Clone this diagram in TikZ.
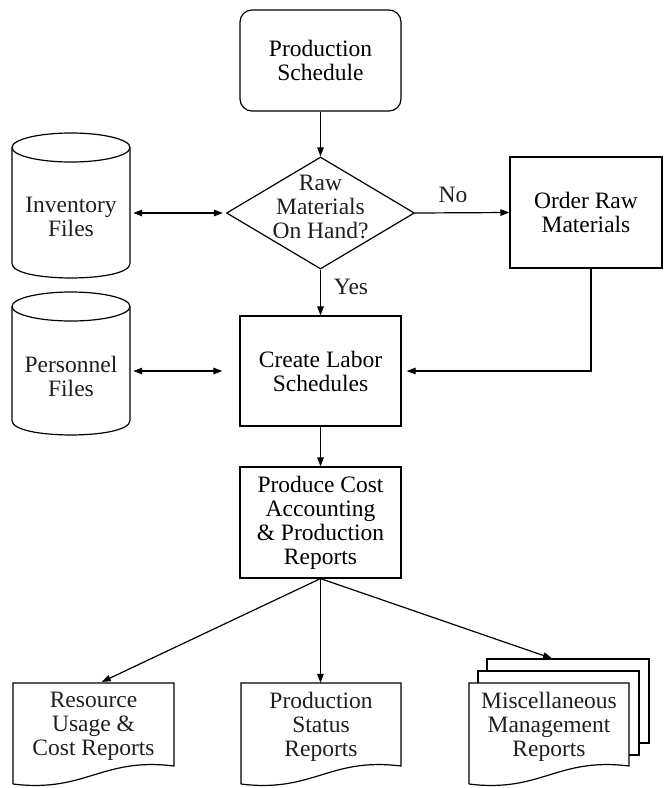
\documentclass[tikz,border=0pt]{standalone}
\usepackage{fontspec}
\setmainfont{Liberation Serif}
\usetikzlibrary{arrows.meta,shapes.geometric,calc}
\begin{document}
\begin{tikzpicture}[x=1pt,y=-1pt,
  every node/.style={font=\fontsize{23.5}{24}\selectfont, text=black!88, align=center, inner sep=0pt},
  line/.style={line width=1.2pt, black},
  arr/.style={line, -{Triangle[length=9pt,width=6.5pt]}},
  darr/.style={line, {Triangle[length=9pt,width=6.5pt]}-{Triangle[length=9pt,width=6.5pt]}},
  box/.style={line, draw, rectangle, minimum width=161pt, minimum height=110pt},
  area/.style={rectangle, minimum width=161pt}
]
\useasboundingbox (0,0) rectangle (664,788);

% terminal and decision
\node[box, rounded corners=12pt, minimum height=101pt] (ps) at (320.5,60.5) {Production\\Schedule};
\node[line, draw, diamond, minimum width=188pt, minimum height=112pt] (dia) at (320.5,213) {};
\node (diat) at (320.5,207) {Raw\\Materials\\On Hand?};

% process boxes
\node[box, minimum width=152pt, minimum height=111pt] (order) at (586,212.5) {Order Raw\\Materials};
\node[box] (cl) at (320.5,371) {Create Labor\\Schedules};
\node[box, minimum height=111pt] (pc) at (320.5,522.5) {Produce Cost\\Accounting\\\& Production\\Reports};

% file stores (cylinders)
\node[area, minimum width=118pt, minimum height=145pt] (inv) at (71,205.5) {};
\node (invt) at (71,216.5) {Inventory\\Files};
\draw[line] (71,147.5) ellipse [x radius=59, y radius=14.5];
\draw[line] (12,147.5) -- (12,263.5) .. controls (12,282.8) and (130,282.8) .. (130,263.5) -- (130,147.5);

\node[area, minimum width=118pt, minimum height=143pt] (pers) at (71,363.5) {};
\node (perst) at (71,376.5) {Personnel\\Files};
\draw[line] (71,306.5) ellipse [x radius=59, y radius=14.5];
\draw[line] (12,306.5) -- (12,420.5) .. controls (12,439.8) and (130,439.8) .. (130,420.5) -- (130,306.5);

% report documents
\node[area, minimum height=87pt] (res) at (93.5,726.5) {Resource\\Usage \&\\Cost Reports};
\draw[line] (13,784) -- (13,683) -- (174,683) -- (174,766)
  .. controls (101.5,757) and (85.5,793) .. (13,784);

\node[area, minimum height=87pt] (pst) at (321,726.5) {Production\\Status\\Reports};
\draw[line] (241,784) -- (241,683) -- (401,683) -- (401,766)
  .. controls (329,757) and (313,793) .. (241,784);

\node[area, minimum height=87pt] (misc) at (549,726.5) {Miscellaneous\\Management\\Reports};
\draw[line] (469,784) -- (469,683) -- (629,683) -- (629,766)
  .. controls (557,757) and (541,793) .. (469,784);
\draw[line] (478,683) -- (478,671) -- (639,671) -- (639,755) -- (629,755);
\draw[line] (487,671) -- (487,659) -- (649,659) -- (649,743) -- (639,743);
\node[area, minimum width=162pt, minimum height=84pt] (misc3) at (568,701) {};

% labels
\node (no) at (453,195) {No};
\node (yes) at (351,287) {Yes};

% connectors
\draw[arr] (ps.south) -- (dia.north);
\draw[arr] (dia.east) -- (order.west);
\draw[arr] (dia.south) -- (cl.north);
\draw[arr] ([xshift=5pt]order.south) |- ([xshift=5pt]cl.east);
\draw[darr, shorten <=3pt, shorten >=3pt] (inv.east |- dia.west) -- (dia.west);
\draw[darr, shorten <=3pt, shorten >=17pt] (pers.east |- cl.west) -- (cl.west);
\draw[arr] (cl.south) -- (pc.north);
\draw[arr, shorten >=2pt] (pc.south) -- ([xshift=6.5pt]res.north);
\draw[arr] (pc.south) -- (pc.south |- pst.north);
\draw[arr, shorten >=1pt] (pc.south) -- ([xshift=-15pt]misc3.north);
\end{tikzpicture}
\end{document}
